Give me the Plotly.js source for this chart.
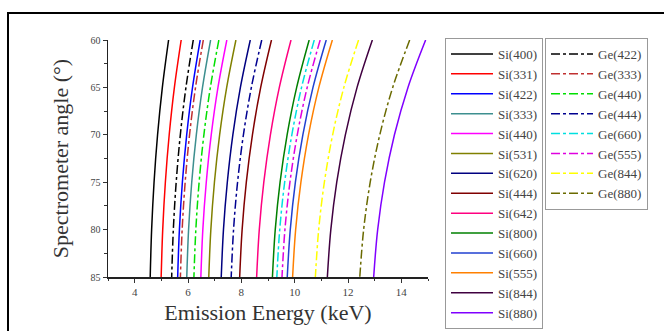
<!DOCTYPE html>
<html>
<head>
<meta charset="utf-8">
<script src="https://cdn.plot.ly/plotly-3.0.1.min.js"></script>
<style>html,body{margin:0;padding:0;background:#fff;}#chart{width:664px;height:331px;}</style>
</head>
<body>
<div id="chart"></div>
<script>
// Spectrometer (Bragg) angle in degrees
const angles = [60, 65, 70, 75, 80, 85];

// Silicon reflections: emission energy (keV) at each angle
const siLabels = ["Si(400)","Si(331)","Si(422)","Si(333)","Si(440)","Si(531)","Si(620)","Si(444)","Si(642)","Si(800)","Si(660)","Si(555)","Si(844)","Si(880)"];
const si400 = [5.272, 5.038, 4.859, 4.727, 4.636, 4.583];
const si331 = [5.745, 5.490, 5.295, 5.151, 5.052, 4.994];
const si422 = [6.457, 6.170, 5.951, 5.789, 5.678, 5.613];
const si333 = [6.848, 6.544, 6.312, 6.140, 6.022, 5.954];
const si440 = [7.456, 7.124, 6.871, 6.685, 6.556, 6.482];
const si531 = [7.797, 7.451, 7.186, 6.991, 6.857, 6.779];
const si620 = [8.336, 7.965, 7.682, 7.474, 7.330, 7.247];
const si444 = [9.131, 8.726, 8.416, 8.187, 8.030, 7.938];
const si642 = [9.863, 9.425, 9.090, 8.843, 8.673, 8.574];
const si800 = [10.544, 10.075, 9.717, 9.453, 9.272, 9.166];
const si660 = [11.184, 10.687, 10.307, 10.027, 9.835, 9.722];
const si555 = [11.414, 10.907, 10.519, 10.234, 10.037, 9.923];
const si844 = [12.914, 12.340, 11.901, 11.578, 11.356, 11.226];
const si880 = [14.911, 14.249, 13.742, 13.369, 13.113, 12.963];
const siSeries = [si400, si331, si422, si333, si440, si531, si620, si444, si642, si800, si660, si555, si844, si880];
const siColors = ["#000000","#ff0000","#0000ff","#3d8f8f","#ff00ff","#808000","#000080","#800000","#ff0080","#008000","#2040d0","#ff8000","#400040","#8000ff"];

// Germanium reflections: emission energy (keV) at each angle
const geLabels = ["Ge(422)","Ge(333)","Ge(440)","Ge(444)","Ge(660)","Ge(555)","Ge(844)","Ge(880)"];
const ge422 = [6.198, 5.923, 5.712, 5.557, 5.450, 5.388];
const ge333 = [6.574, 6.282, 6.058, 5.894, 5.781, 5.715];
const ge440 = [7.157, 6.839, 6.596, 6.417, 6.294, 6.222];
const ge444 = [8.765, 8.376, 8.078, 7.859, 7.708, 7.620];
const ge660 = [10.735, 10.258, 9.894, 9.625, 9.440, 9.332];
const ge555 = [10.956, 10.470, 10.098, 9.823, 9.635, 9.525];
const ge844 = [12.396, 11.845, 11.424, 11.114, 10.901, 10.776];
const ge880 = [14.313, 13.677, 13.192, 12.833, 12.587, 12.443];
const geSeries = [ge422, ge333, ge440, ge444, ge660, ge555, ge844, ge880];
const geColors = ["#000000","#c03030","#00e000","#000090","#00e0e0","#e000e0","#ffff00","#6a6a00"];

const traces = [];
siSeries.forEach((s, i) => {
  traces.push({
    x: s, y: angles, name: siLabels[i], type: 'scatter', mode: 'lines',
    line: {color: siColors[i], width: 1.5, shape: 'spline'},
    legend: 'legend'
  });
});
geSeries.forEach((s, i) => {
  traces.push({
    x: s, y: angles, name: geLabels[i], type: 'scatter', mode: 'lines',
    line: {color: geColors[i], width: 1.5, dash: 'dashdot', shape: 'spline'},
    legend: 'legend2'
  });
});

const serif = "'Liberation Serif', 'Times New Roman', serif";
const L = 108, R = 428, T = 40, B = 277;
const pw = R - L, ph = B - T;

const legendCommon = {
  xanchor: 'left', yanchor: 'top',
  bordercolor: '#999', borderwidth: 1, bgcolor: '#fff',
  font: {family: serif, size: 13, color: '#444'},
  itemwidth: 42, tracegroupgap: 0, maxheight: 331
};

const layout = {
  width: 664, height: 331,
  margin: {l: L, r: 664 - R, t: T, b: 331 - B},
  paper_bgcolor: '#ffffff', plot_bgcolor: '#ffffff',
  showlegend: true,
  font: {family: serif, color: '#333'},
  xaxis: {
    range: [3, 15], tickvals: [4, 6, 8, 10, 12, 14],
    ticks: 'outside', ticklen: 4, tickwidth: 1, tickcolor: '#333',
    minor: {ticks: 'outside', dtick: 1, tick0: 3, ticklen: 2.5, tickcolor: '#333'},
    showline: true, linecolor: '#222', linewidth: 1.5, showgrid: false, zeroline: false,
    tickfont: {family: serif, size: 11, color: '#444'},
    title: {text: 'Emission Energy (keV)', font: {family: serif, size: 22, color: '#333'}, standoff: 8}
  },
  yaxis: {
    range: [85, 60], tickvals: [60, 65, 70, 75, 80, 85],
    ticks: 'outside', ticklen: 4, tickwidth: 1, tickcolor: '#333',
    minor: {ticks: 'outside', dtick: 2.5, tick0: 60, ticklen: 2.5, tickcolor: '#333'},
    showline: true, linecolor: '#222', linewidth: 1.5, showgrid: false, zeroline: false,
    tickfont: {family: serif, size: 10, color: '#444'},
    title: {text: 'Spectrometer angle (°)', font: {family: serif, size: 22, color: '#333'}, standoff: 16}
  },
  legend: Object.assign({x: (445 - L) / pw, y: (B - 38) / ph}, legendCommon),
  legend2: Object.assign({x: (545 - L) / pw, y: (B - 38) / ph}, legendCommon),
  shapes: [{
    type: 'rect', xref: 'paper', yref: 'paper', layer: 'above',
    x0: (8 - L) / pw, x1: (700 - L) / pw, y0: (B - 360) / ph, y1: (B - 13) / ph,
    line: {color: '#000', width: 2}, fillcolor: 'rgba(0,0,0,0)'
  }]
};

Plotly.newPlot('chart', traces, layout, {displayModeBar: false, staticPlot: true});
</script>
</body>
</html>
